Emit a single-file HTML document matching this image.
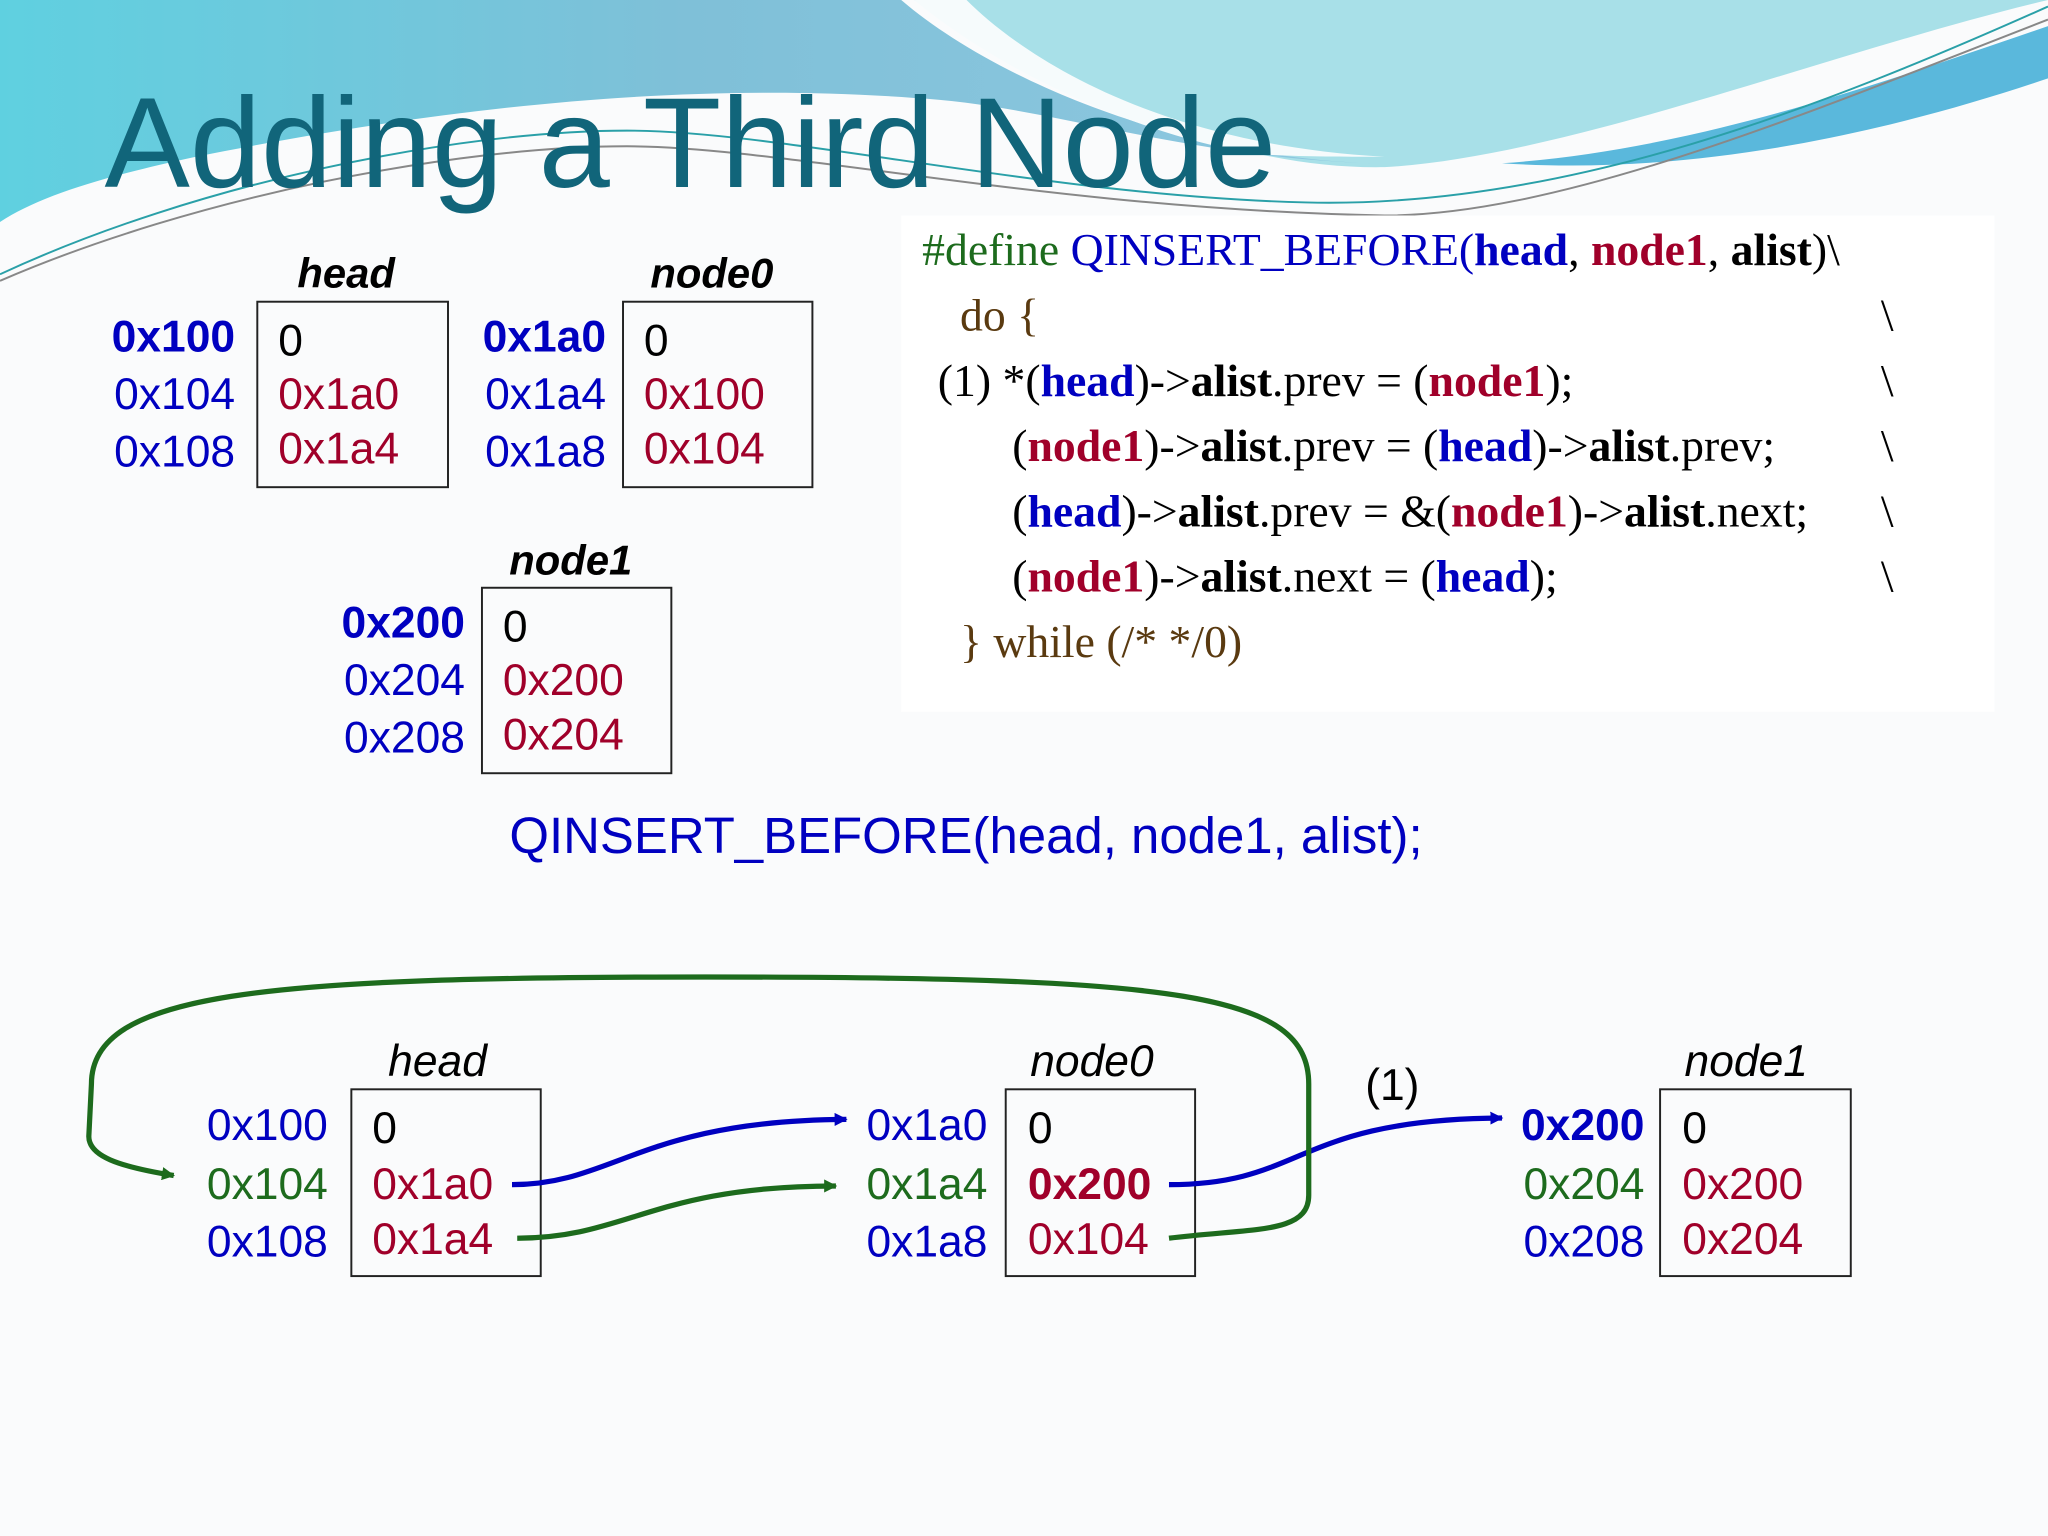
<!DOCTYPE html>
<html><head><meta charset="utf-8"><style>html,body{margin:0;padding:0;background:#fafbfc}svg{display:block}</style></head><body>
<svg width="2048" height="1536" viewBox="0 0 1568 1176" xmlns="http://www.w3.org/2000/svg" font-family="Liberation Sans, sans-serif">
<defs>
<linearGradient id="g1" x1="0" y1="0" x2="1" y2="0"><stop offset="0" stop-color="#5fd0e0"/><stop offset="0.5" stop-color="#7fc0d8"/><stop offset="1" stop-color="#8ec8e0"/></linearGradient>
<marker id="ab" markerWidth="10" markerHeight="10" refX="9" refY="5" orient="auto" markerUnits="userSpaceOnUse"><path d="M0,0 L10,5 L0,10 z" fill="#0000c0"/></marker>
<marker id="ag" markerWidth="10" markerHeight="10" refX="9" refY="5" orient="auto" markerUnits="userSpaceOnUse"><path d="M0,0 L10,5 L0,10 z" fill="#1d6b1d"/></marker>
</defs>
<rect width="1568" height="1176" fill="#fafbfc"/>
<path d="M0,0 L700,0 C820,80 950,130 1060,128 C1200,120 1400,40 1568,0 L1568,0 Z" fill="#a8e0e8"/>
<path d="M0,0 L690,0 C760,60 900,120 1050,125 C900,120 800,80 700,75 C500,60 300,90 150,120 C80,135 30,150 0,170 Z" fill="url(#g1)"/>
<path d="M700,0 C760,50 860,100 960,118 C1000,120 1020,120 1060,120 C880,110 780,40 740,0 Z" fill="#f6fbfc"/>
<path d="M1150,125 C1300,115 1450,60 1568,20 L1568,60 C1450,100 1300,135 1150,125 Z" fill="#5ab8dc"/>
<path d="M0,210 C150,140 350,100 480,100 C600,100 800,150 1000,155 C1200,160 1400,80 1568,5" fill="none" stroke="#2aa0a8" stroke-width="1.5"/>
<path d="M0,215 C150,150 350,112 480,112 C600,112 800,160 1060,165 C1200,165 1400,80 1568,15" fill="none" stroke="#888" stroke-width="1.5"/>
<text x="80" y="143" font-size="98" fill="#11657a">Adding a Third Node</text>
<rect x="690" y="165" width="837" height="380" fill="#ffffff"/>
<g font-size="32">
<text x="265" y="220" text-anchor="middle" font-weight="bold" font-style="italic" fill="#000">head</text>
<text x="545" y="220" text-anchor="middle" font-weight="bold" font-style="italic" fill="#000">node0</text>
<text x="437" y="440" text-anchor="middle" font-weight="bold" font-style="italic" fill="#000">node1</text>
</g>
<g fill="none" stroke="#222" stroke-width="1.5">
<rect x="197" y="231" width="146" height="142"/><rect x="477" y="231" width="145" height="142"/><rect x="369" y="450" width="145" height="142"/>
<rect x="269" y="834" width="145" height="143"/><rect x="770" y="834" width="145" height="143"/><rect x="1271" y="834" width="146" height="143"/>
</g>
<g font-size="34">
<g text-anchor="end" fill="#0000c0">
<text x="180" y="269" font-weight="bold">0x100</text><text x="180" y="313">0x104</text><text x="180" y="357">0x108</text>
<text x="464" y="269" font-weight="bold">0x1a0</text><text x="464" y="313">0x1a4</text><text x="464" y="357">0x1a8</text>
<text x="356" y="488" font-weight="bold">0x200</text><text x="356" y="532">0x204</text><text x="356" y="576">0x208</text>
</g>
<text x="213" y="272" fill="#000">0</text><text x="213" y="313" fill="#a0002a">0x1a0</text><text x="213" y="355" fill="#a0002a">0x1a4</text>
<text x="493" y="272" fill="#000">0</text><text x="493" y="313" fill="#a0002a">0x100</text><text x="493" y="355" fill="#a0002a">0x104</text>
<text x="385" y="491" fill="#000">0</text><text x="385" y="532" fill="#a0002a">0x200</text><text x="385" y="574" fill="#a0002a">0x204</text>
</g>
<g font-family="Liberation Serif, serif" font-size="35">
<text x="706" y="203"><tspan fill="#1d6b1d">#define </tspan><tspan fill="#0000c0">QINSERT_BEFORE(</tspan><tspan fill="#0000c0" font-weight="bold">head</tspan><tspan fill="#000">, </tspan><tspan fill="#a0002a" font-weight="bold">node1</tspan><tspan fill="#000">, </tspan><tspan font-weight="bold" fill="#000">alist</tspan><tspan fill="#000">)\</tspan></text>
<text x="735" y="253" fill="#5a3a10">do {</text>
<text x="718" y="303" fill="#000">(1) *(<tspan fill="#0000c0" font-weight="bold">head</tspan>)-&gt;<tspan font-weight="bold">alist</tspan>.prev = (<tspan fill="#a0002a" font-weight="bold">node1</tspan>);</text>
<text x="775" y="353" fill="#000">(<tspan fill="#a0002a" font-weight="bold">node1</tspan>)-&gt;<tspan font-weight="bold">alist</tspan>.prev = (<tspan fill="#0000c0" font-weight="bold">head</tspan>)-&gt;<tspan font-weight="bold">alist</tspan>.prev;</text>
<text x="775" y="403" fill="#000">(<tspan fill="#0000c0" font-weight="bold">head</tspan>)-&gt;<tspan font-weight="bold">alist</tspan>.prev = &amp;(<tspan fill="#a0002a" font-weight="bold">node1</tspan>)-&gt;<tspan font-weight="bold">alist</tspan>.next;</text>
<text x="775" y="453" fill="#000">(<tspan fill="#a0002a" font-weight="bold">node1</tspan>)-&gt;<tspan font-weight="bold">alist</tspan>.next = (<tspan fill="#0000c0" font-weight="bold">head</tspan>);</text>
<text x="735" y="503" fill="#5a3a10">} while (/* */0)</text>
<g fill="#000"><text x="1440" y="253">\</text><text x="1440" y="303">\</text><text x="1440" y="353">\</text><text x="1440" y="403">\</text><text x="1440" y="453">\</text></g>
</g>
<text x="390" y="653" font-size="39" fill="#0000c0">QINSERT_BEFORE(head, node1, alist);</text>
<g font-size="34">
<text x="335" y="824" text-anchor="middle" font-style="italic" fill="#000">head</text>
<text x="836" y="824" text-anchor="middle" font-style="italic" fill="#000">node0</text>
<text x="1337" y="824" text-anchor="middle" font-style="italic" fill="#000">node1</text>
<text x="1066" y="842" text-anchor="middle" fill="#000">(1)</text>
<g text-anchor="end">
<text x="251" y="873" fill="#0000c0">0x100</text><text x="251" y="918" fill="#1d6b1d">0x104</text><text x="251" y="962" fill="#0000c0">0x108</text>
<text x="756" y="873" fill="#0000c0">0x1a0</text><text x="756" y="918" fill="#1d6b1d">0x1a4</text><text x="756" y="962" fill="#0000c0">0x1a8</text>
<text x="1259" y="873" fill="#0000c0" font-weight="bold">0x200</text><text x="1259" y="918" fill="#1d6b1d">0x204</text><text x="1259" y="962" fill="#0000c0">0x208</text>
</g>
<text x="285" y="875" fill="#000">0</text><text x="285" y="918" fill="#a0002a">0x1a0</text><text x="285" y="960" fill="#a0002a">0x1a4</text>
<text x="787" y="875" fill="#000">0</text><text x="787" y="918" fill="#a0002a" font-weight="bold">0x200</text><text x="787" y="960" fill="#a0002a">0x104</text>
<text x="1288" y="875" fill="#000">0</text><text x="1288" y="918" fill="#a0002a">0x200</text><text x="1288" y="960" fill="#a0002a">0x204</text>
</g>
<g fill="none" stroke-width="4">
<path d="M392,907 C470,907 490,858 648,857" stroke="#0000c0" marker-end="url(#ab)"/>
<path d="M396,948 C480,948 500,908 640,908" stroke="#1d6b1d" marker-end="url(#ag)"/>
<path d="M895,907 C1000,907 990,857 1150,856" stroke="#0000c0" marker-end="url(#ab)"/>
<path d="M895,948 C960,940 1002,945 1002,915 L1002,830 C1002,760 900,748 540,748 C200,748 70,760 70,830 L68,870 C68,885 90,893 133,900" stroke="#1d6b1d" marker-end="url(#ag)"/>
</g>
</svg>
</body></html>
